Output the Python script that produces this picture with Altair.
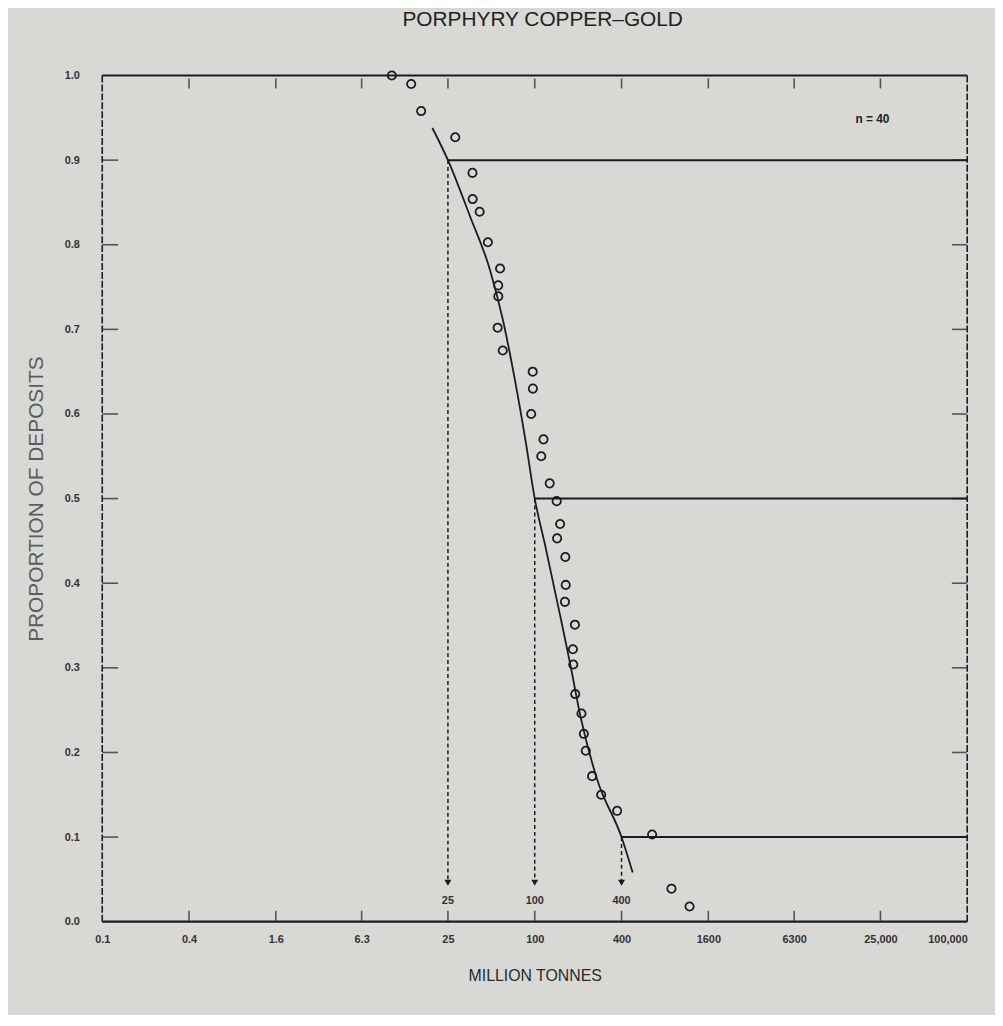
import altair as alt
import pandas as pd

# ---- data ----
tonnage = [10.2, 13.9, 16.3, 28.1, 37.0, 37.1, 41.5, 47.3, 57.5, 55.8, 55.9, 55.3, 60.0,
           96.8, 97.1, 94.5, 115, 111, 127, 142, 150, 143, 163, 164, 162, 190, 184, 185,
           191, 211, 219, 226, 250, 289, 373, 652, 888, 1186]
proportion = [1.0, 0.990, 0.958, 0.927, 0.885, 0.854, 0.839, 0.803, 0.772, 0.752, 0.739,
              0.702, 0.675, 0.650, 0.630, 0.600, 0.570, 0.550, 0.518, 0.497, 0.470, 0.453,
              0.431, 0.398, 0.378, 0.351, 0.322, 0.304, 0.269, 0.246, 0.222, 0.202, 0.172,
              0.150, 0.131, 0.103, 0.039, 0.018]

curve_tonnage = [19.5, 25, 35.5, 49, 60, 72, 87, 100, 118, 150, 176, 208, 271, 400, 478]
curve_prop = [0.938, 0.90, 0.834, 0.770, 0.712, 0.645, 0.565, 0.50, 0.445, 0.362, 0.305,
              0.242, 0.168, 0.10, 0.058]

pct_tonnage = [25, 100, 400]
pct_prop = [0.9, 0.5, 0.1]
pct_label = ["25", "100", "400"]
arrow_prop = 0.046
pct_label_prop = 0.024

x_ticks = [0.1, 0.4, 1.6, 6.3, 25, 100, 400, 1600, 6300, 25000, 100000]
x_tick_labels = ["0.1", "0.4", "1.6", "6.3", "25", "100", "400", "1600", "6300",
                 "25,000", "100,000"]
y_ticks = [0.0, 0.1, 0.2, 0.3, 0.4, 0.5, 0.6, 0.7, 0.8, 0.9, 1.0]

x_min, x_max = 0.1, 100000
n_text = "n = 40"
n_pos = (22000, 0.949)

title_text = "PORPHYRY COPPER\u2013GOLD"
x_title = "MILLION TONNES"
y_title = "PROPORTION OF DEPOSITS"

INK = "#1c1c1c"
FONT = "Liberation Sans"

# ---- scales ----
xs = alt.Scale(type="log", domain=[x_min, x_max], nice=False)
ys = alt.Scale(domain=[0, 1], nice=False)

label_expr = "''"
for v, l in reversed(list(zip(x_ticks, x_tick_labels))):
    label_expr = f"datum.value == {v} ? '{l}' : ({label_expr})"

x_axis = alt.Axis(values=x_ticks, labelExpr=label_expr, domain=False, ticks=False,
                  grid=False, labelFontSize=11, labelFont=FONT, labelFontWeight="bold",
                  labelColor="#333333", labelPadding=12,
                  labelAlign={"condition": {"test": "datum.value >= 100000", "value": "right"},
                              "value": "center"},
                  title=x_title, titleFont=FONT, titleFontSize=16, titleFontWeight="normal",
                  titleColor="#2a2a2a", titlePadding=23)
y_axis = alt.Axis(values=y_ticks, format=".1f", domain=False, ticks=False, grid=False,
                  labelFontSize=11, labelFont=FONT, labelFontWeight="bold",
                  labelColor="#333333", labelPadding=23,
                  title=y_title, titleFont=FONT, titleFontSize=21, titleFontWeight="normal",
                  titleColor="#5c5c5c", titlePadding=18)

# ---- data frames ----
pts = pd.DataFrame({"t": tonnage, "p": proportion})
curve = pd.DataFrame({"t": curve_tonnage, "p": curve_prop})
pct = pd.DataFrame({"t": pct_tonnage, "p": pct_prop, "label": pct_label,
                    "xend": [x_max] * 3, "pa": [arrow_prop] * 3,
                    "pl": [pct_label_prop] * 3})
hframe = pd.DataFrame({"x": [x_min, x_min], "x2": [x_max, x_max], "y": [1.0, 0.0]})
vframe = pd.DataFrame({"x": [x_min, x_max], "y": [0.0, 0.0], "y2": [1.0, 1.0]})
inner_x = x_ticks[1:-1]
inner_y = y_ticks[1:-1]
bticks = pd.DataFrame({"x": inner_x, "y": [0.0] * len(inner_x)})
tticks = pd.DataFrame({"x": inner_x, "y": [1.0] * len(inner_x)})
lticks = pd.DataFrame({"x": [x_min] * len(inner_y), "y": inner_y})
rticks = pd.DataFrame({"x": [x_max] * len(inner_y), "y": inner_y})
ntext = pd.DataFrame({"t": [n_pos[0]], "p": [n_pos[1]], "label": [n_text]})

X = lambda f: alt.X(f, type="quantitative", scale=xs, axis=x_axis)
Y = lambda f: alt.Y(f, type="quantitative", scale=ys, axis=y_axis)

frame_h = alt.Chart(hframe).mark_rule(color=INK, strokeWidth=2.2).encode(
    x=X("x"), x2="x2", y=Y("y"))
frame_v = alt.Chart(vframe).mark_rule(color=INK, strokeWidth=1.6, strokeDash=[7, 2]).encode(
    x=X("x"), y=Y("y"), y2="y2")

tick_b = alt.Chart(bticks).mark_tick(orient="vertical", size=10, thickness=1.6, color=INK,
                                     yOffset=-6).encode(x=X("x"), y=Y("y"))
tick_t = alt.Chart(tticks).mark_tick(orient="vertical", size=10, thickness=1.6, color=INK,
                                     yOffset=8).encode(x=X("x"), y=Y("y"))
tick_l = alt.Chart(lticks).mark_tick(orient="horizontal", size=16, thickness=1.6, color=INK,
                                     xOffset=8).encode(x=X("x"), y=Y("y"))
tick_r = alt.Chart(rticks).mark_tick(orient="horizontal", size=15, thickness=1.6, color=INK,
                                     xOffset=-8).encode(x=X("x"), y=Y("y"))

hlines = alt.Chart(pct).mark_rule(color=INK, strokeWidth=2).encode(
    x=X("t"), x2="xend", y=Y("p"))
vlines = alt.Chart(pct).mark_rule(color=INK, strokeWidth=1.5, strokeDash=[4, 3]).encode(
    x=X("t"), y=Y("p"), y2="pa")
arrows = alt.Chart(pct).mark_point(shape="triangle-down", filled=True, size=50, color=INK,
                                   opacity=1).encode(x=X("t"), y=Y("pa"))
plabels = alt.Chart(pct).mark_text(font=FONT, fontSize=11, fontWeight="bold",
                                   color="#333333", baseline="middle").encode(
    x=X("t"), y=Y("pl"), text="label")

curve_line = alt.Chart(curve).mark_line(color=INK, strokeWidth=1.8,
                                        interpolate="monotone").encode(
    x=X("t"), y=Y("p"))
points = alt.Chart(pts).mark_point(filled=False, size=70, strokeWidth=1.8, color=INK,
                                   opacity=1).encode(x=X("t"), y=Y("p"))
ntxt = alt.Chart(ntext).mark_text(font=FONT, fontSize=12, fontWeight="bold",
                                  color="#222222").encode(x=X("t"), y=Y("p"), text="label")

chart = alt.layer(
    frame_h, frame_v, tick_b, tick_t, tick_l, tick_r,
    hlines, vlines, arrows, plabels, curve_line, points, ntxt
).properties(
    width=872, height=853,
    autosize=alt.AutoSizeParams(type="none"),
    padding={"left": 95, "top": 64, "right": 28, "bottom": 90},
    title=alt.TitleParams(title_text, font=FONT, fontSize=21, fontWeight="normal",
                          color="#222222", anchor="middle", offset=38, dx=8),
    background="#d8d8d4",
).configure_view(stroke=None)

chart.save("out.html", embed_options={"renderer": "svg", "actions": False})
